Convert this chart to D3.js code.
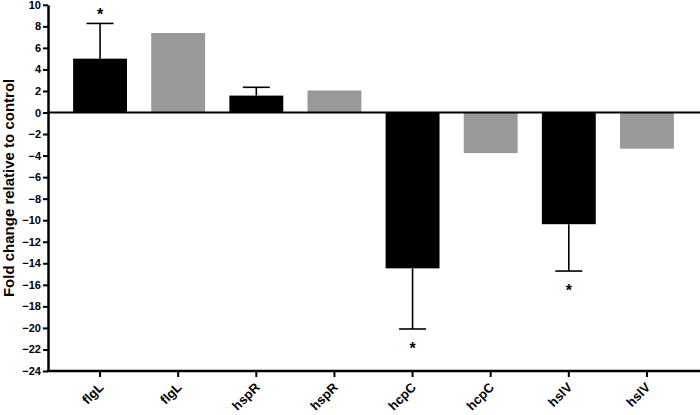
<!DOCTYPE html>
<html>
<head>
<meta charset="utf-8">
<script src="https://cdn.jsdelivr.net/npm/d3@7"></script>
<style>
  body { margin: 0; background: #fff; }
  svg { display: block; font-family: "Liberation Sans", Arial, sans-serif; }
</style>
</head>
<body>
<svg id="chart"></svg>
<script>
// gene labels, one per bar
var genes = ["flgL", "flgL", "hspR", "hspR", "hcpC", "hcpC", "hslV", "hslV"];
// fold change
var values = [5.0, 7.38, 1.57, 2.04, -14.47, -3.77, -10.37, -3.36];
// error (one direction, away from zero), null = no bar
var errors = [3.27, null, 0.77, null, 5.63, null, 4.35, null];
var stars = [true, false, false, false, true, false, true, false];
var groups = ["a", "b", "a", "b", "a", "b", "a", "b"];
var yTicks = d3.range(-24, 11, 2);

var width = 700, height = 415;
var svg = d3.select("#chart").attr("width", width).attr("height", height);

var idx = d3.range(genes.length);

var y = d3.scaleLinear().domain([-24, 10]).range([371, 4.8]);

var x = d3.scaleBand().domain(idx).range([61, 686]).paddingInner(0.31).paddingOuter(0.155);

var color = d3.scaleOrdinal().domain(["a", "b"]).range(["#000000", "#999999"]);

// bars
svg.append("g").selectAll("rect")
  .data(idx)
  .enter()
  .append("rect")
  .attr("x", function(i){ return x(i); })
  .attr("width", x.bandwidth())
  .attr("y", function(i){ return y(Math.max(0, values[i])); })
  .attr("height", function(i){ return Math.abs(y(values[i]) - y(0)); })
  .attr("fill", function(i){ return color(groups[i]); });

// error bars
var eb = svg.append("g").attr("stroke", "#000").attr("stroke-width", 1.6);
idx.filter(function(i){ return errors[i] != null; }).forEach(function(i){
  var cx = x(i) + x.bandwidth() / 2;
  var end = values[i] + Math.sign(values[i]) * errors[i];
  eb.append("line")
    .attr("x1", cx).attr("x2", cx)
    .attr("y1", y(values[i])).attr("y2", y(end));
  eb.append("line")
    .attr("x1", cx - 13.5).attr("x2", cx + 13.5)
    .attr("y1", y(end)).attr("y2", y(end));
});

// significance stars
svg.append("g").selectAll("text")
  .data(idx.filter(function(i){ return stars[i]; }))
  .enter()
  .append("text")
  .attr("x", function(i){ return x(i) + x.bandwidth() / 2; })
  .attr("y", function(i){
    var end = values[i] + Math.sign(values[i]) * (errors[i] || 0);
    return values[i] > 0 ? y(end) - 3 : y(end) + 25;
  })
  .attr("text-anchor", "middle")
  .attr("font-size", 16)
  .attr("font-weight", "bold")
  .text("*");

// zero line
svg.append("line")
  .attr("x1", 48).attr("x2", width)
  .attr("y1", y(0)).attr("y2", y(0))
  .attr("stroke", "#000").attr("stroke-width", 2);

// y axis
var yAxis = svg.append("g")
  .attr("transform", "translate(48,0)")
  .call(d3.axisLeft(y).tickValues(yTicks).tickSize(5).tickPadding(2).tickSizeOuter(0));
yAxis.select(".domain").attr("stroke-width", 2.5);
yAxis.selectAll(".tick line").attr("stroke-width", 2);
yAxis.selectAll("text")
  .attr("font-size", 11)
  .attr("font-weight", "bold")
  .attr("font-family", "Liberation Sans, Arial, sans-serif")
  .attr("fill", "#000");

// x axis (ticks only, labels drawn below so they can be slanted)
var xAxisG = svg.append("g")
  .attr("transform", "translate(0," + y(-24) + ")");
xAxisG.append("line")
  .attr("x1", 47).attr("x2", width)
  .attr("stroke", "#000").attr("stroke-width", 2.5);
xAxisG.call(d3.axisBottom(x).tickSize(6).tickFormat(""))
  .select(".domain").remove();
xAxisG.selectAll(".tick line").attr("stroke-width", 2);

svg.append("g").selectAll("text")
  .data(idx)
  .enter()
  .append("text")
  .attr("transform", function(i){
    return "translate(" + (x(i) + x.bandwidth() / 2 + 1) + "," + (y(-24) + 14) + ") rotate(-45)";
  })
  .attr("dy", "0.35em")
  .attr("text-anchor", "end")
  .attr("font-size", 13)
  .attr("font-weight", "bold")
  .text(function(i){ return genes[i]; });

// y axis title
svg.append("text")
  .attr("transform", "translate(14," + y(-7) + ") rotate(-90)")
  .attr("text-anchor", "middle")
  .attr("font-size", 15)
  .attr("font-weight", "bold")
  .text("Fold change relative to control");
</script>
</body>
</html>
